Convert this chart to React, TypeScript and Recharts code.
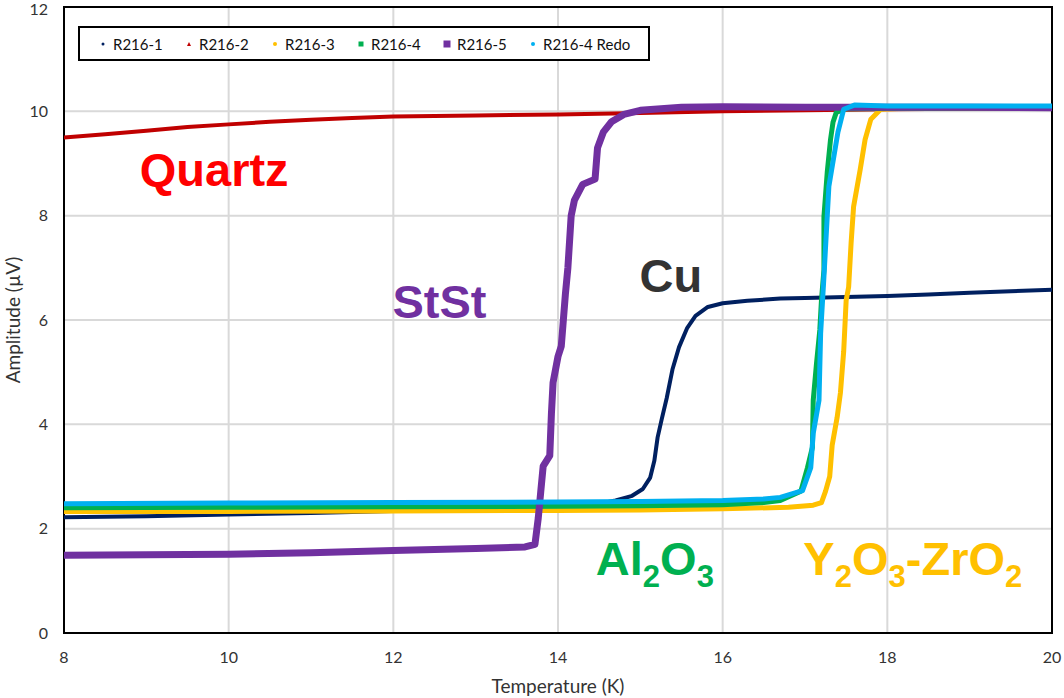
import React from "react";
import {
  ComposedChart, Line, XAxis, YAxis, CartesianGrid, Legend, ReferenceArea, ReferenceDot, Label
} from "recharts";

// temperature (K) / amplitude (µV) pairs
const r216_1 = [
  { t: 8, v: 2.22 }, { t: 9, v: 2.24 }, { t: 10, v: 2.27 }, { t: 11, v: 2.3 }, { t: 12, v: 2.34 },
  { t: 13, v: 2.38 }, { t: 14, v: 2.43 }, { t: 14.5, v: 2.48 }, { t: 14.7, v: 2.54 }, { t: 14.9, v: 2.63 },
  { t: 15.03, v: 2.76 }, { t: 15.12, v: 2.98 }, { t: 15.17, v: 3.3 }, { t: 15.21, v: 3.75 }, { t: 15.26, v: 4.1 },
  { t: 15.32, v: 4.5 }, { t: 15.39, v: 5.05 }, { t: 15.47, v: 5.48 }, { t: 15.57, v: 5.85 }, { t: 15.67, v: 6.08 },
  { t: 15.82, v: 6.25 }, { t: 16, v: 6.32 }, { t: 16.3, v: 6.37 }, { t: 16.7, v: 6.41 }, { t: 17, v: 6.42 },
  { t: 17.5, v: 6.44 }, { t: 18, v: 6.46 }, { t: 18.5, v: 6.49 }, { t: 19, v: 6.52 }, { t: 19.5, v: 6.55 },
  { t: 20, v: 6.58 },
];

const r216_2 = [
  { t: 8, v: 9.5 }, { t: 8.5, v: 9.56 }, { t: 9, v: 9.63 }, { t: 9.5, v: 9.7 }, { t: 10, v: 9.75 },
  { t: 10.5, v: 9.8 }, { t: 11, v: 9.84 }, { t: 11.5, v: 9.87 }, { t: 12, v: 9.9 }, { t: 13, v: 9.92 },
  { t: 14, v: 9.94 }, { t: 15, v: 9.97 }, { t: 16, v: 10.0 }, { t: 17, v: 10.02 }, { t: 18, v: 10.04 },
  { t: 19, v: 10.05 }, { t: 20, v: 10.06 },
];

const r216_3 = [
  { t: 8, v: 2.33 }, { t: 10, v: 2.33 }, { t: 12, v: 2.34 }, { t: 14, v: 2.35 }, { t: 15, v: 2.36 },
  { t: 16, v: 2.38 }, { t: 16.8, v: 2.41 }, { t: 17.1, v: 2.45 }, { t: 17.2, v: 2.5 }, { t: 17.25, v: 2.72 },
  { t: 17.3, v: 3.0 }, { t: 17.33, v: 3.6 }, { t: 17.39, v: 4.13 }, { t: 17.43, v: 4.6 }, { t: 17.47, v: 5.4 },
  { t: 17.5, v: 6.38 }, { t: 17.53, v: 6.63 }, { t: 17.56, v: 7.48 }, { t: 17.59, v: 8.17 }, { t: 17.67, v: 8.88 },
  { t: 17.73, v: 9.46 }, { t: 17.8, v: 9.85 }, { t: 17.92, v: 10.04 }, { t: 18.2, v: 10.06 }, { t: 20, v: 10.08 },
];

const r216_4 = [
  { t: 8, v: 2.4 }, { t: 10, v: 2.41 }, { t: 12, v: 2.42 }, { t: 14, v: 2.43 }, { t: 15, v: 2.44 },
  { t: 16, v: 2.46 }, { t: 16.5, v: 2.5 }, { t: 16.7, v: 2.54 }, { t: 16.95, v: 2.72 }, { t: 17.03, v: 3.17 },
  { t: 17.09, v: 3.56 }, { t: 17.1, v: 4.46 }, { t: 17.14, v: 5.17 }, { t: 17.18, v: 5.81 }, { t: 17.2, v: 6.38 },
  { t: 17.23, v: 6.96 }, { t: 17.23, v: 7.98 }, { t: 17.27, v: 8.83 }, { t: 17.31, v: 9.46 }, { t: 17.34, v: 9.79 },
  { t: 17.38, v: 9.98 }, { t: 17.5, v: 10.05 }, { t: 20, v: 10.07 },
];

const r216_5 = [
  { t: 8, v: 1.49 }, { t: 9, v: 1.5 }, { t: 10, v: 1.51 }, { t: 11, v: 1.54 }, { t: 12, v: 1.58 },
  { t: 13, v: 1.62 }, { t: 13.6, v: 1.65 }, { t: 13.72, v: 1.7 }, { t: 13.76, v: 2.2 }, { t: 13.79, v: 2.7 },
  { t: 13.82, v: 3.2 }, { t: 13.9, v: 3.4 }, { t: 13.92, v: 4.2 }, { t: 13.94, v: 4.8 }, { t: 14.0, v: 5.3 },
  { t: 14.04, v: 5.5 }, { t: 14.06, v: 5.9 }, { t: 14.09, v: 6.5 }, { t: 14.12, v: 7.0 }, { t: 14.16, v: 8.0 },
  { t: 14.2, v: 8.3 }, { t: 14.3, v: 8.6 }, { t: 14.45, v: 8.7 }, { t: 14.48, v: 9.3 }, { t: 14.55, v: 9.6 },
  { t: 14.65, v: 9.8 }, { t: 14.8, v: 9.94 }, { t: 15.0, v: 10.02 }, { t: 15.5, v: 10.08 }, { t: 16, v: 10.09 },
  { t: 17, v: 10.08 }, { t: 18, v: 10.08 }, { t: 19, v: 10.08 }, { t: 20, v: 10.07 },
];

const r216_4redo = [
  { t: 8, v: 2.48 }, { t: 10, v: 2.49 }, { t: 12, v: 2.5 }, { t: 14, v: 2.51 }, { t: 15, v: 2.52 },
  { t: 16, v: 2.54 }, { t: 16.5, v: 2.57 }, { t: 16.7, v: 2.6 }, { t: 16.97, v: 2.73 }, { t: 17.07, v: 3.17 },
  { t: 17.1, v: 3.83 }, { t: 17.17, v: 4.46 }, { t: 17.19, v: 5.75 }, { t: 17.23, v: 6.83 }, { t: 17.29, v: 8.56 },
  { t: 17.4, v: 9.6 }, { t: 17.47, v: 10.04 }, { t: 17.6, v: 10.12 }, { t: 18, v: 10.1 }, { t: 19, v: 10.1 },
  { t: 20, v: 10.1 },
];

const xTicks = [8, 10, 12, 14, 16, 18, 20];
const yTicks = [0, 2, 4, 6, 8, 10, 12];

const SERIES = [
  { name: "R216-1", data: r216_1, color: "#002060", width: 4, marker: "dot", size: 3 },
  { name: "R216-2", data: r216_2, color: "#C00000", width: 4, marker: "tri", size: 4 },
  { name: "R216-3", data: r216_3, color: "#FFC000", width: 5, marker: "dot", size: 4 },
  { name: "R216-4", data: r216_4, color: "#00B050", width: 5, marker: "square", size: 5 },
  { name: "R216-5", data: r216_5, color: "#7030A0", width: 7, marker: "square", size: 7 },
  { name: "R216-4 Redo", data: r216_4redo, color: "#00B0F0", width: 5, marker: "dot", size: 4 },
];

const AXIS_FONT = "Lato, 'Open Sans', sans-serif";
const NOTE_FONT = "'Liberation Sans', Arial, sans-serif";

function Marker({ kind, color, size }: { kind: string; color: string; size: number }) {
  return (
    <svg width={12} height={12} style={{ flex: "none" }}>
      {kind === "square" && <rect x={6 - size / 2} y={6 - size / 2} width={size} height={size} fill={color} />}
      {kind === "dot" && <circle cx={6} cy={6} r={size / 2} fill={color} />}
      {kind === "tri" && <polygon points={`6,${6 - size / 2} ${6 + size / 2},${6 + size / 2} ${6 - size / 2},${6 + size / 2}`} fill={color} />}
    </svg>
  );
}

function LegendBox() {
  return (
    <div style={{
      border: "2px solid #000", background: "#fff", height: 35, boxSizing: "border-box",
      display: "flex", alignItems: "center", paddingLeft: 17,
      fontFamily: AXIS_FONT, fontSize: 15, color: "#111",
    }}>
      {SERIES.map((s, i) => (
        <div key={s.name} style={{ display: "flex", alignItems: "center", width: i < SERIES.length - 1 ? 86 : "auto" }}>
          <Marker kind={s.marker} color={s.color} size={s.size} />
          <span style={{ marginLeft: 4, whiteSpace: "nowrap" }}>{s.name}</span>
        </div>
      ))}
    </div>
  );
}

// big material labels, anchored at their data position (left edge, baseline)
const note = (parts: { s: string; sub?: boolean }[], color: string) => (props: any) => {
  const { x, y } = props.viewBox;
  let shifted = false;
  return (
    <text x={x} y={y} fill={color} fontFamily={NOTE_FONT} fontWeight="bold" fontSize={47}>
      {parts.map((p, i) => {
        let dy = 0;
        if (p.sub && !shifted) { dy = 12; shifted = true; }
        else if (!p.sub && shifted) { dy = -12; shifted = false; }
        return <tspan key={i} dy={dy} fontSize={p.sub ? 31 : 47}>{p.s}</tspan>;
      })}
    </text>
  );
};

export default function App() {
  return (
    <div style={{ position: "absolute", left: 0, top: 0, background: "#fff" }}>
      <ComposedChart width={1064} height={698} margin={{ top: 7, right: 12, left: 0, bottom: 0 }}>
        <CartesianGrid stroke="#D9D9D9" strokeWidth={2} />
        <XAxis
          dataKey="t" type="number" domain={[8, 20]} ticks={xTicks} allowDataOverflow
          axisLine={false} tickLine={false} tickSize={0} tickMargin={19} height={65}
          tick={{ fill: "#333", fontSize: 16, fontFamily: AXIS_FONT }}
        >
          <Label value="Temperature (K)" position="insideBottom" offset={5} fill="#333" fontSize={19} fontFamily={AXIS_FONT} />
        </XAxis>
        <YAxis
          type="number" domain={[0, 12]} ticks={yTicks} allowDataOverflow
          axisLine={false} tickLine={false} tickSize={0} tickMargin={16} width={64}
          tick={{ fill: "#333", fontSize: 16, fontFamily: AXIS_FONT }}
        >
          <Label
            content={(p: any) => (
              <text
                transform={`translate(${p.viewBox.x + 20}, ${p.viewBox.y + p.viewBox.height / 2}) rotate(-90)`}
                textAnchor="middle" fill="#333" fontSize={19} fontFamily={AXIS_FONT}
              >
                Amplitude (µV)
              </text>
            )}
          />
        </YAxis>
        {SERIES.map((s) => (
          <Line
            key={s.name}
            data={s.data}
            dataKey="v"
            name={s.name}
            type="linear"
            stroke={s.color}
            strokeWidth={s.width}
            strokeLinejoin="round"
            strokeLinecap="round"
            dot={false}
            activeDot={false}
            isAnimationActive={false}
          />
        ))}
        <ReferenceArea x1={8} x2={20} y1={0} y2={12} fill="none" stroke="#000" strokeWidth={2} />
        <ReferenceDot x={8.92} y={8.56} r={0} fill="none" stroke="none" label={note([{ s: "Quartz" }], "#FF0000")} />
        <ReferenceDot x={11.99} y={6.03} r={0} fill="none" stroke="none" label={note([{ s: "StSt" }], "#7030A0")} />
        <ReferenceDot x={14.99} y={6.53} r={0} fill="none" stroke="none" label={note([{ s: "Cu" }], "#333333")} />
        <ReferenceDot
          x={14.46} y={1.11} r={0} fill="none" stroke="none"
          label={note([{ s: "Al" }, { s: "2", sub: true }, { s: "O" }, { s: "3", sub: true }], "#00B050")}
        />
        <ReferenceDot
          x={16.98} y={1.11} r={0} fill="none" stroke="none"
          label={note([{ s: "Y" }, { s: "2", sub: true }, { s: "O" }, { s: "3", sub: true }, { s: "-ZrO" }, { s: "2", sub: true }], "#FFC000")}
        />
        <Legend
          layout="horizontal" verticalAlign="middle" align="center"
          content={() => <LegendBox />}
          wrapperStyle={{ top: 26, left: 78, width: 572, height: 35 }}
        />
      </ComposedChart>
    </div>
  );
}
